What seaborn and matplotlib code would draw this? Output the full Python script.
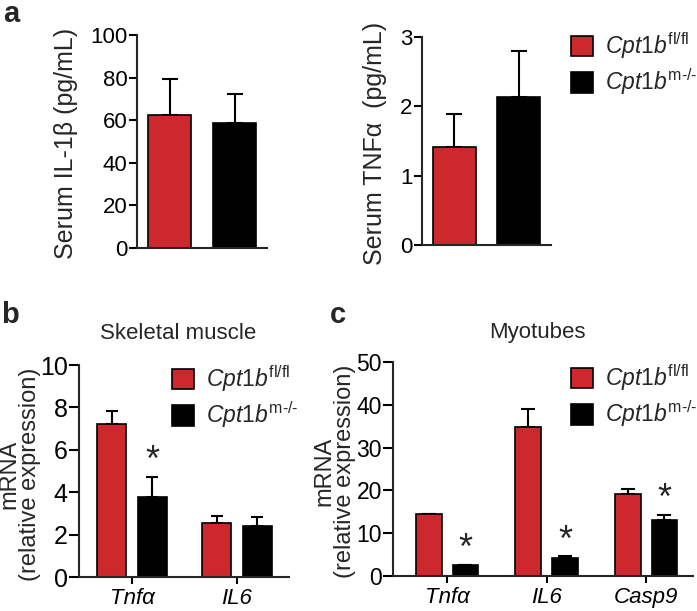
import numpy as np
import pandas as pd
import matplotlib
matplotlib.use('Agg')
import matplotlib.pyplot as plt
from matplotlib.container import BarContainer
import seaborn as sns

# data
genotypes = [r'$\mathit{Cpt1b}^{\mathrm{fl/fl}}$', r'$\mathit{Cpt1b}^{\text{m-/-}}$']
colors = ['#CD282D', '#000000']

il1b_mean = [62.4, 58.8]
il1b_err = [17.1, 13.4]
tnf_mean = [1.42, 2.14]
tnf_err = [0.47, 0.66]

muscle_genes = ['Tnfα', 'IL6']
muscle_fl = [7.2, 2.55]
muscle_fl_err = [0.64, 0.33]
muscle_ko = [3.79, 2.4]
muscle_ko_err = [0.94, 0.43]
muscle_star = [True, False]

myo_genes = ['Tnfα', 'IL6', 'Casp9']
myo_fl = [14.4, 34.9, 19.2]
myo_fl_err = [0.2, 4.2, 1.1]
myo_ko = [2.5, 4.3, 13.1]
myo_ko_err = [0.1, 0.3, 1.15]
myo_star = [True, True, True]

sns.set_style('ticks')
plt.rcParams['font.family'] = ['Liberation Sans', 'DejaVu Sans']
plt.rcParams['mathtext.fontset'] = 'custom'
plt.rcParams['mathtext.rm'] = 'Liberation Sans'
plt.rcParams['mathtext.it'] = 'Liberation Sans:italic'
plt.rcParams['axes.linewidth'] = 1.5

fig = plt.figure(figsize=(6.97, 6.11), dpi=100)
ax1 = fig.add_axes([0.1966, 0.5941, 0.1865, 0.3486])
ax2 = fig.add_axes([0.6055, 0.5990, 0.1851, 0.3404])
ax3 = fig.add_axes([0.1133, 0.0556, 0.3013, 0.3470])
ax4 = fig.add_axes([0.5638, 0.0573, 0.4304, 0.3502])


def bars_of(ax):
    return [c for c in ax.containers if isinstance(c, BarContainer)]


def errbars(ax, means_list, errs_list, capsize):
    for cont, means, errs in zip(bars_of(ax), means_list, errs_list):
        xs = [p.get_x() + p.get_width() / 2 for p in cont.patches]
        ax.errorbar(xs, means, yerr=[np.zeros(len(errs)), errs], fmt='none',
                    ecolor='black', elinewidth=1.5, capsize=capsize,
                    capthick=1.5, zorder=1)


def style(ax, ymax, step, tick_fs, tick_len):
    sns.despine(ax=ax)
    ax.set_ylim(0, ymax)
    ax.set_yticks(np.arange(0, ymax + step / 2, step))
    ax.tick_params(axis='y', length=tick_len, width=1.5, labelsize=tick_fs, pad=1, colors='black')
    ax.tick_params(axis='x', length=5, width=1.5, pad=3, colors='black')
    ax.set_xlabel('')


def add_legend(ax, x_px, y_px):
    ax.legend(handles=[c.patches[0] for c in bars_of(ax)], labels=genotypes,
              loc='upper left', bbox_to_anchor=(x_px / 697, 1 - y_px / 611),
              bbox_transform=fig.transFigure, frameon=False, fontsize=16.5,
              borderpad=0, borderaxespad=0, handlelength=0.96, handleheight=1.0,
              handletextpad=0.52, labelspacing=0.25)


# panel a
df_a1 = pd.DataFrame({'g': genotypes, 'v': il1b_mean})
sns.barplot(data=df_a1, x='g', y='v', hue='g', palette=colors, width=0.67,
            saturation=1, edgecolor='black', linewidth=1.2, legend=False, ax=ax1, zorder=2)
errbars(ax1, [[m] for m in il1b_mean], [[e] for e in il1b_err], 6)
style(ax1, 100, 20, 16, 6)
ax1.set_xlim(-0.5, 1.5)
ax1.set_xticks([])
ax1.set_ylabel('Serum IL-1β (pg/mL)', fontsize=18)
ax1.yaxis.set_label_coords(-0.455, 0.49)

df_a2 = pd.DataFrame({'g': genotypes, 'v': tnf_mean})
sns.barplot(data=df_a2, x='g', y='v', hue='g', palette=colors, width=0.67,
            saturation=1, edgecolor='black', linewidth=1.2, legend=False, ax=ax2, zorder=2)
errbars(ax2, [[m] for m in tnf_mean], [[e] for e in tnf_err], 6)
style(ax2, 3, 1, 16, 6)
ax2.set_xlim(-0.5, 1.5)
ax2.set_xticks([])
ax2.set_ylabel('Serum TNFα  (pg/mL)', fontsize=18)
ax2.yaxis.set_label_coords(-0.27, 0.49)
add_legend(ax2, 571, 30)


def grouped(ax, genes, fl, fl_err, ko, ko_err, stars, width, gap, capsize):
    df = pd.DataFrame({'gene': genes * 2,
                       'geno': [genotypes[0]] * len(genes) + [genotypes[1]] * len(genes),
                       'v': fl + ko})
    sns.barplot(data=df, x='gene', y='v', hue='geno', palette=colors, width=width,
                gap=gap, saturation=1, edgecolor='black', linewidth=1.2,
                legend=False, ax=ax, zorder=2)
    errbars(ax, [fl, ko], [fl_err, ko_err], capsize)
    ko_cont = bars_of(ax)[1]
    for p, m, e, s in zip(ko_cont.patches, ko, ko_err, stars):
        if s:
            ax.annotate('*', (p.get_x() + p.get_width() / 2, m + e),
                        xytext=(0, 4), textcoords='offset points',
                        ha='center', va='baseline', fontsize=26)
    ax.set_xticks(range(len(genes)))
    ax.set_xticklabels(genes, fontsize=16, style='italic')


# panel b
grouped(ax3, muscle_genes, muscle_fl, muscle_fl_err, muscle_ko, muscle_ko_err,
        muscle_star, 0.78, 0.31, 4)
style(ax3, 10, 2, 18, 7)
ax3.set_xlim(-0.505, 1.495)
ax3.set_ylabel('mRNA\n(relative expression)', fontsize=17, linespacing=0.92)
ax3.yaxis.set_label_coords(-0.18, 0.485)
ax3.text(0.471, 1.15, 'Skeletal muscle', transform=ax3.transAxes, ha='center',
         va='center', fontsize=16)
add_legend(ax3, 172, 363)

# panel c
grouped(ax4, myo_genes, myo_fl, myo_fl_err, myo_ko, myo_ko_err,
        myo_star, 0.736, 0.30, 5)
style(ax4, 50, 10, 16.5, 7)
ax4.set_xlim(-0.543, 2.47)
ax4.set_ylabel('mRNA\n(relative expression)', fontsize=17, linespacing=0.92)
ax4.yaxis.set_label_coords(-0.123, 0.49)
ax4.text(0.483, 1.136, 'Myotubes', transform=ax4.transAxes, ha='center',
         va='center', fontsize=16)
add_legend(ax4, 571, 362)

# panel letters
fig.text(0.004, 1 - 22 / 611, 'a', fontsize=21, fontweight='bold', va='baseline')
fig.text(0.002, 1 - 323 / 611, 'b', fontsize=21, fontweight='bold', va='baseline')
fig.text(330 / 697, 1 - 323 / 611, 'c', fontsize=21, fontweight='bold', va='baseline')

fig.savefig('out.png', dpi=100)
